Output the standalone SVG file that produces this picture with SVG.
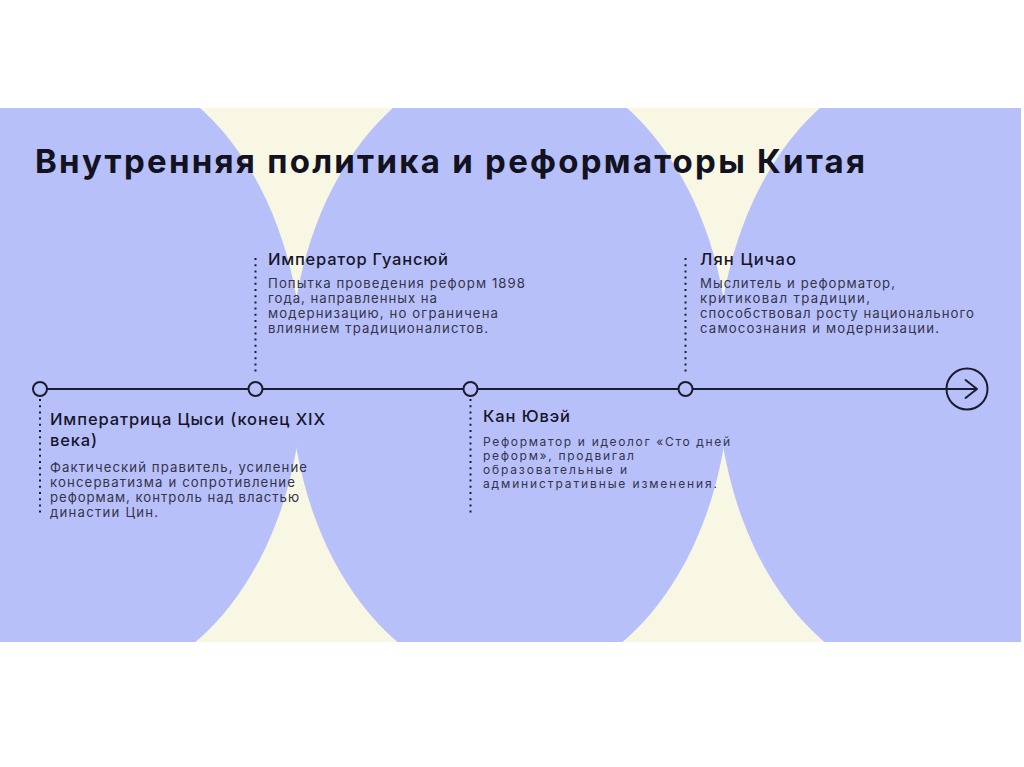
<svg xmlns="http://www.w3.org/2000/svg" width="1024" height="767" viewBox="0 0 1024 767">
  <style>
    .title{font-family:Inter,"Noto Sans","Liberation Sans",sans-serif;font-weight:700;font-size:33px;fill:#121220}
    .head{font-family:Inter,"Noto Sans","Liberation Sans",sans-serif;font-weight:500;font-size:16.5px;fill:#16162a}
    .desc{font-family:Inter,"Noto Sans","Liberation Sans",sans-serif;font-weight:400;font-size:13.2px;fill:#34344a}
    .tight{font-size:12px}
    .dots{stroke:#1c1c30;stroke-width:2;stroke-dasharray:2 4.2;fill:none}
    .tl{stroke:#1c1c30;stroke-width:2;fill:none}
    .node{stroke:#1c1c30;stroke-width:2;fill:#b8c0fa}
    .blob{fill:#b8c0fa}
  </style>
  <rect x="0" y="0" width="1024" height="767" fill="#ffffff"/>
  <g id="background">
    <rect x="0" y="108" width="1021" height="534" fill="#f8f7e4"/>
    <clipPath id="slide"><rect x="0" y="108" width="1021" height="534"/></clipPath>
    <g clip-path="url(#slide)">
      <ellipse class="blob" cx="83" cy="373" rx="220" ry="313"/>
      <ellipse class="blob" cx="510" cy="373" rx="220" ry="313"/>
      <ellipse class="blob" cx="937" cy="373" rx="220" ry="313"/>
    </g>
  </g>
  <g id="title">
    <text class="title" x="35" y="173" textLength="830">Внутренняя политика и реформаторы Китая</text>
  </g>
  <g id="connectors">
    <line class="tl" x1="47" y1="389" x2="977" y2="389"/>
    <line class="dots" x1="255.5" y1="258" x2="255.5" y2="375"/>
    <line class="dots" x1="685.5" y1="258" x2="685.5" y2="375"/>
    <line class="dots" x1="40" y1="399" x2="40" y2="514"/>
    <line class="dots" x1="470.5" y1="399" x2="470.5" y2="514"/>
  </g>
  <g id="node-cixi">
    <circle class="node" cx="40" cy="389" r="7"/>
    <text class="head" x="50" y="425" textLength="275">Императрица Цыси (конец XIX</text>
    <text class="head" x="50" y="446" textLength="47">века)</text>
    <text class="desc" x="50" y="472" textLength="257">Фактический правитель, усиление</text>
    <text class="desc" x="50" y="487" textLength="245">консерватизма и сопротивление</text>
    <text class="desc" x="50" y="502" textLength="249">реформам, контроль над властью</text>
    <text class="desc" x="50" y="517" textLength="108">династии Цин.</text>
  </g>
  <g id="node-guangxu">
    <circle class="node" cx="255.5" cy="389" r="7"/>
    <text class="head" x="268" y="265" textLength="180">Император Гуансюй</text>
    <text class="desc" x="268" y="288" textLength="257">Попытка проведения реформ 1898</text>
    <text class="desc" x="268" y="303" textLength="169">года, направленных на</text>
    <text class="desc" x="268" y="318" textLength="230">модернизацию, но ограничена</text>
    <text class="desc" x="268" y="333" textLength="220">влиянием традиционалистов.</text>
  </g>
  <g id="node-kang">
    <circle class="node" cx="470.5" cy="389" r="7"/>
    <text class="head" x="483" y="422" textLength="87">Кан Ювэй</text>
    <text class="desc tight" x="483" y="446" textLength="247">Реформатор и идеолог «Сто дней</text>
    <text class="desc tight" x="483" y="460" textLength="151">реформ», продвигал</text>
    <text class="desc tight" x="483" y="474" textLength="144">образовательные и</text>
    <text class="desc tight" x="483" y="488" textLength="234">административные изменения.</text>
  </g>
  <g id="node-liang">
    <circle class="node" cx="685.5" cy="389" r="7"/>
    <text class="head" x="700" y="265" textLength="96">Лян Цичао</text>
    <text class="desc" x="700" y="288" textLength="195">Мыслитель и реформатор,</text>
    <text class="desc" x="700" y="303" textLength="170">критиковал традиции,</text>
    <text class="desc" x="700" y="318" textLength="274">способствовал росту национального</text>
    <text class="desc" x="700" y="333" textLength="239">самосознания и модернизации.</text>
  </g>
  <g id="node-end">
    <circle cx="967" cy="389" r="20.5" fill="none" stroke="#1c1c30" stroke-width="2"/>
    <polyline points="965.5,380 977,389 965.5,398" fill="none" stroke="#1c1c30" stroke-width="2" stroke-linecap="round" stroke-linejoin="round"/>
  </g>
</svg>
